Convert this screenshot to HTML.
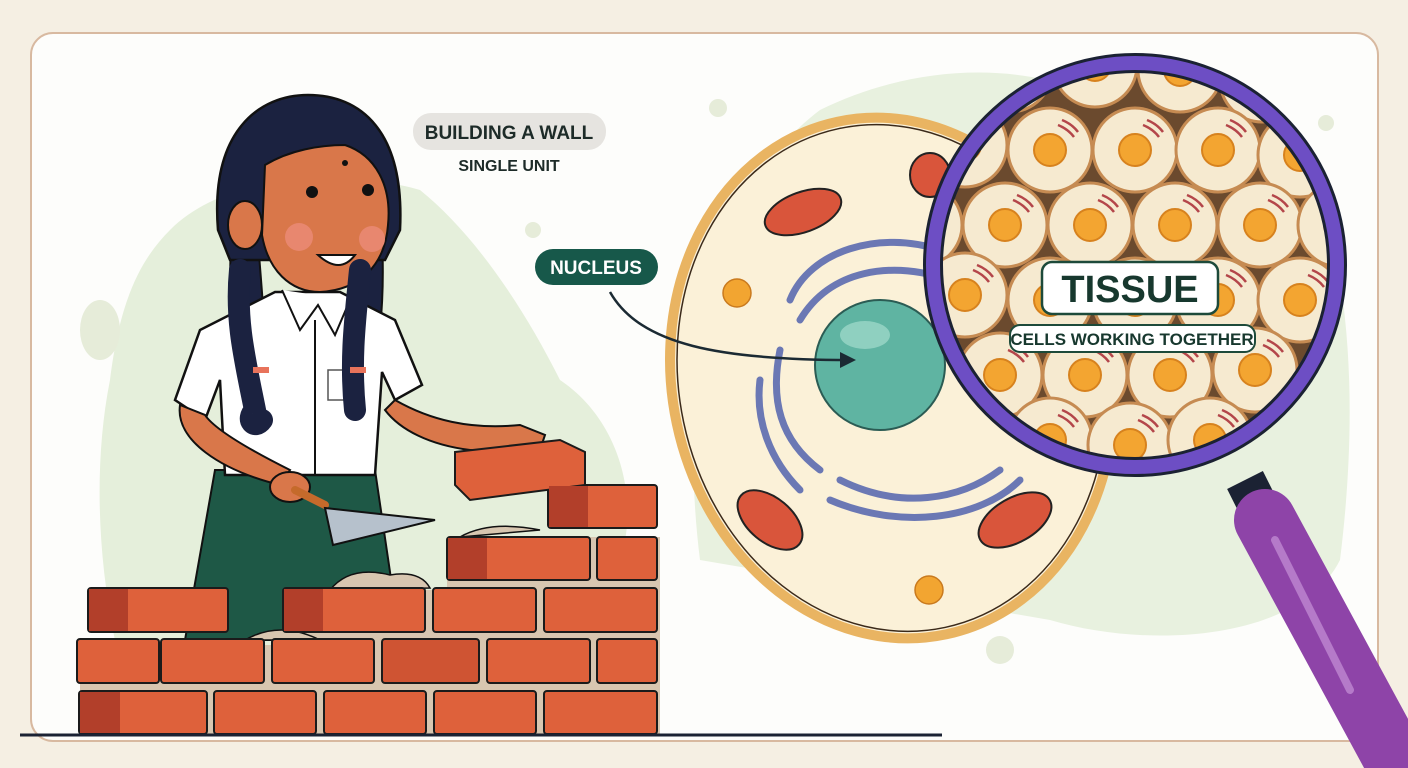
<!DOCTYPE html>
<html><head><meta charset="utf-8"><style>
html,body{margin:0;padding:0;background:#f5efe3;}
svg{display:block}
text{font-family:"Liberation Sans",sans-serif;font-weight:bold}
</style></head><body>
<svg width="1408" height="768" viewBox="0 0 1408 768" xmlns="http://www.w3.org/2000/svg">
<defs>
<clipPath id="lens"><circle cx="1135" cy="265" r="198"/></clipPath>
<g id="tc">
  <circle r="42" fill="#f6ead0" stroke="#c68b52" stroke-width="3"/>
  <circle r="16" fill="#f3a531" stroke="#d7821e" stroke-width="2"/>
  <path d="M12,-30 q10,4 16,12 M8,-25 q10,4 16,12" stroke="#b4464a" stroke-width="2.5" fill="none"/>
</g>
</defs>
<rect width="1408" height="768" fill="#f5efe3"/>
<rect x="31" y="33" width="1347" height="708" rx="22" fill="#fdfdfb" stroke="#d8b9a0" stroke-width="2"/>

<path d="M170,230 C230,170 350,170 420,190 C470,230 520,300 560,380 C620,420 640,500 620,560 L600,700 L130,700 C100,600 90,480 110,380 C120,300 140,260 170,230Z" fill="#e5efdb"/>
<path d="M820,110 C900,70 1000,60 1080,90 L1300,140 C1350,250 1360,400 1340,560 C1300,640 1150,650 1050,620 L700,560 C680,400 700,200 820,110Z" fill="#e8f1df"/>
<circle cx="718" cy="108" r="9" fill="#e6ecd9"/>
<circle cx="1326" cy="123" r="8" fill="#e6ecd9"/>
<circle cx="1000" cy="650" r="14" fill="#e6ecd9"/>
<circle cx="533" cy="230" r="8" fill="#e6ecd9"/>
<ellipse cx="100" cy="330" rx="20" ry="30" fill="#e6ecd9"/>

<path d="M232,240 C225,300 240,340 250,420 L262,425 C270,360 262,300 258,240Z" fill="#1b2240" stroke="#111" stroke-width="2"/>
<path d="M355,240 C350,300 345,340 350,420 L362,425 C380,360 385,300 382,240Z" fill="#1b2240" stroke="#111" stroke-width="2"/>
<path d="M215,470 L375,470 L400,640 L185,640Z" fill="#1e5846" stroke="#111" stroke-width="2"/>
<path d="M275,292 L340,292 L395,320 L422,385 L395,400 L382,372 L375,475 L225,475 L220,380 L205,420 L175,400 L200,330Z" fill="#fff" stroke="#111" stroke-width="2.5"/>
<path d="M282,290 L300,330 L318,305 L335,335 L350,300" fill="#fff" stroke="#111" stroke-width="2"/>
<line x1="315" y1="320" x2="315" y2="475" stroke="#111" stroke-width="2"/>
<rect x="328" y="370" width="22" height="30" fill="none" stroke="#555" stroke-width="1.5"/>
<path d="M180,405 C175,440 220,470 280,485 L290,470 C250,450 215,430 205,415Z" fill="#d9774a" stroke="#111" stroke-width="2"/>
<path d="M395,400 C430,420 470,430 520,425 L545,435 L540,450 L470,450 C430,445 400,430 385,410Z" fill="#d9774a" stroke="#111" stroke-width="2"/>
<ellipse cx="290" cy="487" rx="20" ry="15" fill="#d9774a" stroke="#111" stroke-width="2"/>
<path d="M295,490 L325,505" stroke="#c56a2b" stroke-width="8" stroke-linecap="round"/>
<path d="M325,508 L435,520 L333,545Z" fill="#b6c1cc" stroke="#111" stroke-width="2"/>
<path d="M218,230 C210,130 260,95 308,95 C360,95 405,130 400,230 L385,260 L230,260Z" fill="#1b2240" stroke="#111" stroke-width="2.5"/>
<path d="M265,165 C290,150 320,145 345,145 C375,155 392,185 388,225 C385,265 360,290 320,292 C290,292 268,270 262,235Z" fill="#d9774a" stroke="#111" stroke-width="2"/>
<ellipse cx="245" cy="225" rx="17" ry="24" fill="#d9774a" stroke="#111" stroke-width="2"/>
<circle cx="312" cy="192" r="6" fill="#111"/><circle cx="368" cy="190" r="6" fill="#111"/>
<circle cx="299" cy="237" r="14" fill="#e8876f"/><circle cx="372" cy="239" r="13" fill="#e8876f"/>
<path d="M318,255 Q340,275 355,255Z" fill="#fff" stroke="#111" stroke-width="2"/>
<circle cx="345" cy="163" r="3" fill="#111"/>
<path d="M240,270 C235,320 245,360 255,410 C245,420 255,430 262,420" fill="none" stroke="#1b2240" stroke-width="22" stroke-linecap="round"/>
<path d="M360,270 C355,320 350,360 355,410" fill="none" stroke="#1b2240" stroke-width="22" stroke-linecap="round"/>
<rect x="253" y="367" width="16" height="6" fill="#e8735b"/><rect x="350" y="367" width="16" height="6" fill="#e8735b"/>

<g stroke="#1b1b1b" stroke-width="2" fill="#de613b">
<rect x="80" y="645" width="580" height="90" fill="#d8c6b0" stroke="none"/>
<rect x="285" y="590" width="375" height="55" fill="#d8c6b0" stroke="none"/>
<rect x="447" y="537" width="213" height="55" fill="#d8c6b0" stroke="none"/>
<path d="M330,590 Q350,565 390,575 Q420,570 430,588Z M460,537 Q490,520 540,530Z M245,640 Q280,620 320,640Z" fill="#d8c6b0" stroke="#111" stroke-width="1.5"/>
<rect x="79" y="691" width="128" height="43" rx="3"/><rect x="214" y="691" width="102" height="43" rx="3"/><rect x="324" y="691" width="102" height="43" rx="3"/><rect x="434" y="691" width="102" height="43" rx="3"/><rect x="544" y="691" width="113" height="43" rx="3"/>
<rect x="77" y="639" width="82" height="44" rx="3"/><rect x="161" y="639" width="103" height="44" rx="3"/><rect x="272" y="639" width="102" height="44" rx="3"/><rect x="382" y="639" width="97" height="44" rx="3" fill="#cf5433"/><rect x="487" y="639" width="103" height="44" rx="3"/><rect x="597" y="639" width="60" height="44" rx="3"/>
<rect x="88" y="588" width="140" height="44" rx="3"/><rect x="283" y="588" width="142" height="44" rx="3"/><rect x="433" y="588" width="103" height="44" rx="3"/><rect x="544" y="588" width="113" height="44" rx="3"/>
<rect x="447" y="537" width="143" height="43" rx="3"/><rect x="597" y="537" width="60" height="43" rx="3"/>
<rect x="548" y="485" width="109" height="43" rx="3"/>
<path d="M455,452 L560,440 L585,452 L585,485 L470,500 L455,485Z"/>
</g>
<g fill="#b23f2a">
<rect x="80" y="692" width="40" height="41"/><rect x="89" y="589" width="39" height="42"/><rect x="284" y="589" width="39" height="42"/><rect x="448" y="538" width="39" height="41"/><rect x="549" y="486" width="39" height="41"/>
</g>
<line x1="20" y1="735" x2="942" y2="735" stroke="#1b2233" stroke-width="3"/>

<rect x="413" y="113" width="193" height="37" rx="18" fill="#e6e4e0"/>
<text x="509" y="139" text-anchor="middle" font-size="19" fill="#1d2b28">BUILDING A WALL</text>
<text x="509" y="171" text-anchor="middle" font-size="16" fill="#1d2b28">SINGLE UNIT</text>
<rect x="535" y="249" width="123" height="36" rx="18" fill="#17584a"/>
<text x="596" y="274" text-anchor="middle" font-size="19" fill="#fff">NUCLEUS</text>

<g transform="rotate(-12 892 378)">
<ellipse cx="892" cy="378" rx="220" ry="262" fill="#fbf1d8" stroke="#e9b462" stroke-width="10"/>
<ellipse cx="892" cy="378" rx="213" ry="255" fill="none" stroke="#3b2a1a" stroke-width="1.5"/>
</g>
<g fill="none" stroke="#6b78b4" stroke-width="7" stroke-linecap="round">
<path d="M790,300 C810,250 880,230 940,250"/><path d="M800,320 C830,270 890,260 950,280"/><path d="M780,350 C770,400 780,440 820,470"/>
<path d="M760,380 C755,420 770,460 800,490"/><path d="M840,480 C900,510 960,500 1000,470"/><path d="M830,500 C900,530 980,520 1020,480"/>
</g>
<circle cx="880" cy="365" r="65" fill="#5fb4a2" stroke="#2b5c54" stroke-width="2"/>
<ellipse cx="865" cy="335" rx="25" ry="14" fill="#8fd0c0"/>
<g stroke="#222" stroke-width="2">
<ellipse cx="803" cy="212" rx="40" ry="20" fill="#d9553b" transform="rotate(-20 803 212)"/>
<ellipse cx="770" cy="520" rx="38" ry="22" fill="#d9553b" transform="rotate(40 770 520)"/>
<ellipse cx="1015" cy="520" rx="40" ry="22" fill="#d9553b" transform="rotate(-30 1015 520)"/>
<ellipse cx="930" cy="175" rx="20" ry="22" fill="#d9553b"/>
</g>
<g fill="#f2a531" stroke="#c97a1e" stroke-width="1.5">
<circle cx="737" cy="293" r="14"/><circle cx="929" cy="590" r="14"/><circle cx="1012" cy="410" r="9"/>
</g>
<path d="M610,292 C640,345 720,360 850,360" fill="none" stroke="#1b2a33" stroke-width="2.5"/>
<path d="M840,352 L856,360 L840,368Z" fill="#1b2a33"/>

<path d="M1245,480 L1260,510" stroke="#1b2233" stroke-width="40"/>
<path d="M1265,520 L1395,760" stroke="#8e44a8" stroke-width="62" stroke-linecap="round"/>
<line x1="1275" y1="540" x2="1350" y2="690" stroke="#b57ac9" stroke-width="8" stroke-linecap="round"/>
<circle cx="1135" cy="265" r="200" fill="#6b4a2e"/>
<g clip-path="url(#lens)">
<use href="#tc" x="1010" y="70"/><use href="#tc" x="1095" y="65"/><use href="#tc" x="1180" y="70"/><use href="#tc" x="1262" y="80"/>
<use href="#tc" x="965" y="145"/><use href="#tc" x="1050" y="150"/><use href="#tc" x="1135" y="150"/><use href="#tc" x="1218" y="150"/><use href="#tc" x="1300" y="155"/>
<use href="#tc" x="920" y="225"/><use href="#tc" x="1005" y="225"/><use href="#tc" x="1090" y="225"/><use href="#tc" x="1175" y="225"/><use href="#tc" x="1260" y="225"/><use href="#tc" x="1340" y="225"/>
<use href="#tc" x="965" y="295"/><use href="#tc" x="1050" y="300"/><use href="#tc" x="1135" y="300"/><use href="#tc" x="1218" y="300"/><use href="#tc" x="1300" y="300"/>
<use href="#tc" x="1000" y="375"/><use href="#tc" x="1085" y="375"/><use href="#tc" x="1170" y="375"/><use href="#tc" x="1255" y="370"/>
<use href="#tc" x="1050" y="440"/><use href="#tc" x="1130" y="445"/><use href="#tc" x="1210" y="440"/>
</g>
<circle cx="1135" cy="265" r="202" fill="none" stroke="#1b2233" stroke-width="20"/>
<circle cx="1135" cy="265" r="202" fill="none" stroke="#6d4ec4" stroke-width="14"/>
<rect x="1042" y="262" width="176" height="52" rx="10" fill="#fff" stroke="#1d4a3a" stroke-width="2.5"/>
<text x="1130" y="302" text-anchor="middle" font-size="38" fill="#17382e">TISSUE</text>
<rect x="1010" y="325" width="245" height="27" rx="10" fill="#fff" stroke="#1d4a3a" stroke-width="2"/>
<text x="1132" y="345" text-anchor="middle" font-size="17" fill="#17382e">CELLS WORKING TOGETHER</text>
</svg>
</body></html>
